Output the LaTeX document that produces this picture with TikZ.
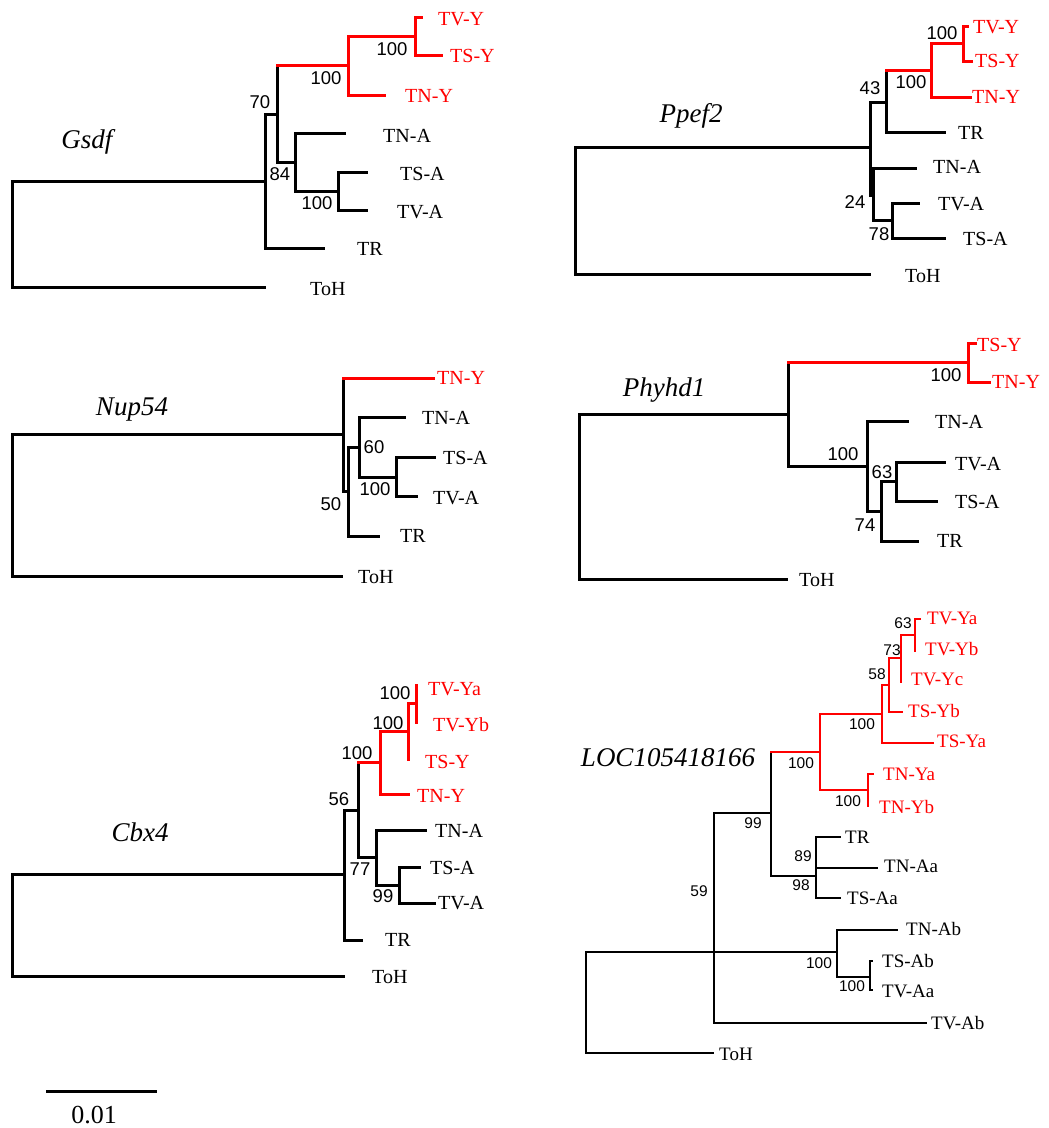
\documentclass[tikz,border=0pt]{standalone}
\usepackage{fontspec}
\setmainfont{Liberation Serif}
\setsansfont{Liberation Sans}
\usepackage{tikz}

\begin{document}
\begin{tikzpicture}[x=1pt, y=-1pt,
	branch/.style={line width=3pt},
	redbranch/.style={branch, red, line cap=rect},
	taxon/.style={anchor=west, inner sep=0pt, font=\fontsize{20}{20}\selectfont},
	redtaxon/.style={taxon, text=red},
	boot/.style={inner sep=0pt, font=\sffamily\fontsize{18.5}{18.5}\selectfont},
	gene/.style={inner sep=0pt, font=\itshape\fontsize{27}{27}\selectfont}]
	\useasboundingbox (0,0) rectangle (1049,1128);
	% Gsdf:
	\coordinate (gRoot) at (12,234);
	\coordinate (gA) at (265,181);
	\coordinate (gB) at (277,114);
	\coordinate (gC) at (348,65);
	\coordinate (gD) at (415,36);
	\coordinate (gE) at (295,162);
	\coordinate (gF) at (338,191);
	\coordinate (gTVY) at (421,17);
	\coordinate (gTSY) at (441,55);
	\coordinate (gTNY) at (384,95);
	\coordinate (gTNA) at (346,133);
	\coordinate (gTSA) at (368,172);
	\coordinate (gTVA) at (368,210);
	\coordinate (gTR) at (325,248);
	\coordinate (gToH) at (266,287);
	\draw[branch] (gRoot) |- (gA) (gRoot) |- (gToH) (gA) |- (gB) (gA) |- (gTR)
		(gB) |- (gE) (gE) |- (gTNA) (gE) |- (gF) (gF) |- (gTSA) (gF) |- (gTVA) (gB) -- (gB |- gC);
	\draw[redbranch] (gB |- gC) -- (gC) (gC) |- (gD) (gC) |- (gTNY) (gD) |- (gTVY) (gD) |- (gTSY);
	\node[redtaxon] (gTVYl) at (438,19) {TV-Y};
	\node[redtaxon] (gTSYl) at (450,56) {TS-Y};
	\node[redtaxon] (gTNYl) at (405,96) {TN-Y};
	\node[taxon] (gTNAl) at (383,136) {TN-A};
	\node[taxon] (gTSAl) at (400,174) {TS-A};
	\node[taxon] (gTVAl) at (397,212) {TV-A};
	\node[taxon] (gTRl) at (357,249) {TR};
	\node[taxon] (gToHl) at (310,289) {ToH};
	\node[boot] (gb1) at (392,49) {100};
	\node[boot] (gb2) at (326,78) {100};
	\node[boot] (gb3) at (260,102) {70};
	\node[boot] (gb4) at (280,174) {84};
	\node[boot] (gb5) at (317,203) {100};
	\node[gene] (gsdf) at (87,142) {Gsdf};
	% Ppef2:
	\coordinate (pRoot) at (575,210);
	\coordinate (pA) at (870,147);
	\coordinate (pB) at (886,102);
	\coordinate (pC) at (931,70);
	\coordinate (pD) at (963,43);
	\coordinate (pE) at (873,195);
	\coordinate (pF) at (892,220);
	\coordinate (pTVY) at (967,26);
	\coordinate (pTSY) at (971,61);
	\coordinate (pTNY) at (970,97);
	\coordinate (pTR) at (946,132);
	\coordinate (pTNA) at (917,168);
	\coordinate (pTVA) at (920,203);
	\coordinate (pTSA) at (946,238);
	\coordinate (pToH) at (871,274);
	\draw[branch] (pRoot) |- (pA) (pRoot) |- (pToH) (pA) |- (pB) (pA) |- (pE) (pB) |- (pTR)
		(pE) |- (pTNA) (pE) |- (pF) (pF) |- (pTVA) (pF) |- (pTSA) (pB) -- (pB |- pC);
	\draw[redbranch] (pB |- pC) -- (pC) (pC) |- (pD) (pC) |- (pTNY) (pD) |- (pTVY) (pD) |- (pTSY);
	\node[redtaxon] (pTVYl) at (973,27) {TV-Y};
	\node[redtaxon] (pTSYl) at (975,61) {TS-Y};
	\node[redtaxon] (pTNYl) at (972,97) {TN-Y};
	\node[taxon] (pTRl) at (958,133) {TR};
	\node[taxon] (pTNAl) at (933,167) {TN-A};
	\node[taxon] (pTVAl) at (938,204) {TV-A};
	\node[taxon] (pTSAl) at (963,239) {TS-A};
	\node[taxon] (pToHl) at (905,276) {ToH};
	\node[boot] (pb1) at (942,33) {100};
	\node[boot] (pb2) at (911,82) {100};
	\node[boot] (pb3) at (870,88) {43};
	\node[boot] (pb4) at (855,202) {24};
	\node[boot] (pb5) at (879,234) {78};
	\node[gene] (ppef) at (691,116) {Ppef2};
	% Nup54:
	\coordinate (nRoot) at (12,504);
	\coordinate (nA) at (343,434);
	\coordinate (nB) at (348,491);
	\coordinate (nC) at (359,447);
	\coordinate (nD) at (396,477);
	\coordinate (nTNY) at (433,378);
	\coordinate (nTNA) at (406,417);
	\coordinate (nTSA) at (436,457);
	\coordinate (nTVA) at (418,496);
	\coordinate (nTR) at (380,536);
	\coordinate (nToH) at (343,576);
	\draw[branch] (nRoot) |- (nA) (nRoot) |- (nToH) (nA) |- (nB) (nB) |- (nC) (nB) |- (nTR)
		(nC) |- (nTNA) (nC) |- (nD) (nD) |- (nTSA) (nD) |- (nTVA) (nA) -- (nA |- nTNY);
	\draw[redbranch] (nA |- nTNY) -- (nTNY);
	\node[redtaxon] (nTNYl) at (437,378) {TN-Y};
	\node[taxon] (nTNAl) at (422,418) {TN-A};
	\node[taxon] (nTSAl) at (443,458) {TS-A};
	\node[taxon] (nTVAl) at (433,498) {TV-A};
	\node[taxon] (nTRl) at (400,536) {TR};
	\node[taxon] (nToHl) at (358,577) {ToH};
	\node[boot] (nb1) at (374,447) {60};
	\node[boot] (nb2) at (375,489) {100};
	\node[boot] (nb3) at (331,504) {50};
	\node[gene] (nup) at (132,409) {Nup54};
	% Phyhd1:
	\coordinate (hRoot) at (579,497);
	\coordinate (hA) at (788,414);
	\coordinate (hB) at (968,362);
	\coordinate (hC) at (867,466);
	\coordinate (hD) at (881,511);
	\coordinate (hE) at (896,481);
	\coordinate (hTSY) at (975,343);
	\coordinate (hTNY) at (989,382);
	\coordinate (hTNA) at (909,421);
	\coordinate (hTVA) at (946,462);
	\coordinate (hTSA) at (938,501);
	\coordinate (hTR) at (919,541);
	\coordinate (hToH) at (788,579);
	\draw[branch] (hRoot) |- (hA) (hRoot) |- (hToH) (hA) |- (hC) (hC) |- (hTNA) (hC) |- (hD)
		(hD) |- (hE) (hD) |- (hTR) (hE) |- (hTVA) (hE) |- (hTSA) (hA) -- (hA |- hB);
	\draw[redbranch] (hA |- hB) -- (hB) (hB) |- (hTSY) (hB) |- (hTNY);
	\node[redtaxon] (hTSYl) at (977,345) {TS-Y};
	\node[redtaxon] (hTNYl) at (992,382) {TN-Y};
	\node[taxon] (hTNAl) at (935,422) {TN-A};
	\node[taxon] (hTVAl) at (955,464) {TV-A};
	\node[taxon] (hTSAl) at (955,502) {TS-A};
	\node[taxon] (hTRl) at (937,541) {TR};
	\node[taxon] (hToHl) at (799,580) {ToH};
	\node[boot] (hb1) at (946,375) {100};
	\node[boot] (hb2) at (843,454) {100};
	\node[boot] (hb3) at (882,472) {63};
	\node[boot] (hb4) at (865,525) {74};
	\node[gene] (phy) at (664,390) {Phyhd1};
	% Cbx4:
	\coordinate (cRoot) at (12,925);
	\coordinate (cA) at (344,874);
	\coordinate (cB) at (358,810);
	\coordinate (cC) at (380,762);
	\coordinate (cD) at (408,731);
	\coordinate (cE) at (416,703);
	\coordinate (cF) at (376,857);
	\coordinate (cG) at (399,885);
	\coordinate (cTVYa) at (416,685);
	\coordinate (cTVYb) at (416,722);
	\coordinate (cTSY) at (408,759);
	\coordinate (cTNY) at (408,794);
	\coordinate (cTNA) at (427,830);
	\coordinate (cTSA) at (421,867);
	\coordinate (cTVA) at (436,903);
	\coordinate (cTR) at (363,940);
	\coordinate (cToH) at (345,976);
	\draw[branch] (cRoot) |- (cA) (cRoot) |- (cToH) (cA) |- (cB) (cA) |- (cTR) (cB) |- (cF)
		(cF) |- (cTNA) (cF) |- (cG) (cG) |- (cTSA) (cG) |- (cTVA) (cB) -- (cB |- cC);
	\draw[redbranch] (cB |- cC) -- (cC) (cC) |- (cD) (cC) |- (cTNY) (cD) |- (cE) (cD) |- (cTSY)
		(cE) |- (cTVYa) (cE) |- (cTVYb);
	\node[redtaxon] (cTVYal) at (428,689) {TV-Ya};
	\node[redtaxon] (cTVYbl) at (433,725) {TV-Yb};
	\node[redtaxon] (cTSYl) at (425,762) {TS-Y};
	\node[redtaxon] (cTNYl) at (417,796) {TN-Y};
	\node[taxon] (cTNAl) at (435,831) {TN-A};
	\node[taxon] (cTSAl) at (430,868) {TS-A};
	\node[taxon] (cTVAl) at (438,903) {TV-A};
	\node[taxon] (cTRl) at (385,940) {TR};
	\node[taxon] (cToHl) at (372,977) {ToH};
	\node[boot] (cb1) at (395,693) {100};
	\node[boot] (cb2) at (388,723) {100};
	\node[boot] (cb3) at (357,753) {100};
	\node[boot] (cb4) at (339,799) {56};
	\node[boot] (cb5) at (360,869) {77};
	\node[boot] (cb6) at (383,896) {99};
	\node[gene] (cbx) at (140,832) {Cbx4};
	% LOC105418166:
	\begin{scope}[branch/.append style={line width=2.2pt},
		taxon/.append style={font=\fontsize{19}{19}\selectfont},
		boot/.append style={font=\sffamily\fontsize{15.5}{15.5}\selectfont}]
	\coordinate (lRoot) at (586,1003);
	\coordinate (lA) at (714,952);
	\coordinate (lB) at (771,813);
	\coordinate (lC) at (820,752);
	\coordinate (lD) at (882,714);
	\coordinate (lE) at (889,685);
	\coordinate (lF) at (901,658);
	\coordinate (lG) at (915,635);
	\coordinate (lH) at (868,790);
	\coordinate (lI) at (816,876);
	\coordinate (lJ) at (837,952);
	\coordinate (lK) at (870,977);
	\coordinate (lTVYa) at (920,619);
	\coordinate (lTVYb) at (915,651);
	\coordinate (lTVYc) at (901,682);
	\coordinate (lTSYb) at (902,712);
	\coordinate (lTSYa) at (933,743);
	\coordinate (lTNYa) at (873,774);
	\coordinate (lTNYb) at (868,806);
	\coordinate (lTR) at (841,837);
	\coordinate (lTNAa) at (878,868);
	\coordinate (lTSAa) at (841,898);
	\coordinate (lTNAb) at (898,930);
	\coordinate (lTSAb) at (873,961);
	\coordinate (lTVAa) at (873,990);
	\coordinate (lTVAb) at (927,1023);
	\coordinate (lToH) at (714,1053);
	\draw[branch] (lRoot) |- (lA) (lRoot) |- (lToH) (lA) |- (lB) (lA) |- (lJ) (lA) |- (lTVAb)
		(lB) |- (lI) (lI) |- (lTR) (lI) |- (lTNAa) (lI) |- (lTSAa) (lJ) |- (lTNAb) (lJ) |- (lK)
		(lK) |- (lTSAb) (lK) |- (lTVAa) (lB) -- (lB |- lC);
	\draw[redbranch] (lB |- lC) -- (lC) (lC) |- (lD) (lC) |- (lH) (lD) |- (lE) (lD) |- (lTSYa)
		(lE) |- (lF) (lE) |- (lTSYb) (lF) |- (lG) (lF) |- (lTVYc) (lG) |- (lTVYa) (lG) |- (lTVYb)
		(lH) |- (lTNYa) (lH) |- (lTNYb);
	\node[redtaxon] (lTVYal) at (927,618) {TV-Ya};
	\node[redtaxon] (lTVYbl) at (925,649) {TV-Yb};
	\node[redtaxon] (lTVYcl) at (911,679) {TV-Yc};
	\node[redtaxon] (lTSYbl) at (908,711) {TS-Yb};
	\node[redtaxon] (lTSYal) at (937,741) {TS-Ya};
	\node[redtaxon] (lTNYal) at (883,774) {TN-Ya};
	\node[redtaxon] (lTNYbl) at (879,807) {TN-Yb};
	\node[taxon] (lTRl) at (845,837) {TR};
	\node[taxon] (lTNAal) at (884,866) {TN-Aa};
	\node[taxon] (lTSAal) at (847,898) {TS-Aa};
	\node[taxon] (lTNAbl) at (906,929) {TN-Ab};
	\node[taxon] (lTSAbl) at (882,961) {TS-Ab};
	\node[taxon] (lTVAal) at (882,991) {TV-Aa};
	\node[taxon] (lTVAbl) at (931,1023) {TV-Ab};
	\node[taxon] (lToHl) at (719,1054) {ToH};
	\node[boot] (lb1) at (903,623) {63};
	\node[boot] (lb2) at (892,650) {73};
	\node[boot] (lb3) at (877,674) {58};
	\node[boot] (lb4) at (862,724) {100};
	\node[boot] (lb5) at (801,763) {100};
	\node[boot] (lb6) at (848,801) {100};
	\node[boot] (lb7) at (753,823) {99};
	\node[boot] (lb8) at (803,856) {89};
	\node[boot] (lb9) at (801,885) {98};
	\node[boot] (lb10) at (699,891) {59};
	\node[boot] (lb11) at (819,963) {100};
	\node[boot] (lb12) at (852,986) {100};
	\node[gene] (loc) at (668,758) {LOC105418166};
	\end{scope}
	% scale bar:
	\coordinate (sbL) at (46,1091);
	\coordinate (sbR) at (157,1091);
	\draw[branch] (sbL) -- (sbR);
	\node[inner sep=0pt, font=\fontsize{26}{26}\selectfont] (sbText) at (94,1115) {0.01};
\end{tikzpicture}
\end{document}
